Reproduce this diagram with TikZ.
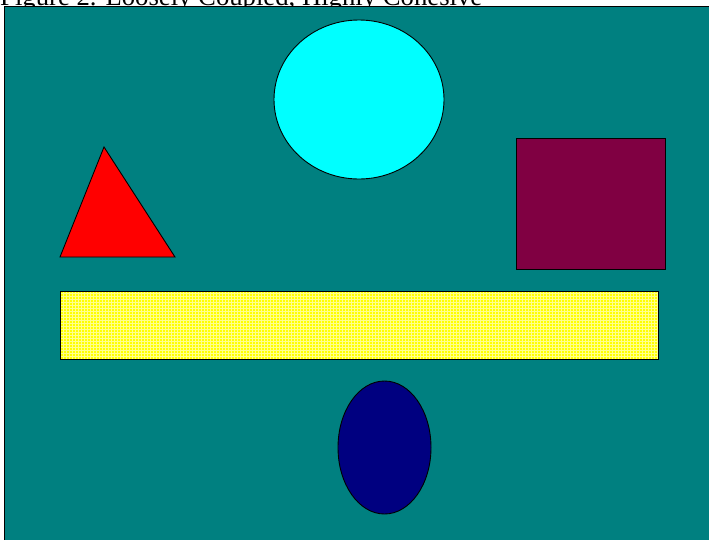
\documentclass[tikz,border=0pt]{standalone}
\usepackage{fontspec}
\setmainfont{Liberation Serif}
\usetikzlibrary{shapes.geometric,patterns,positioning}
\definecolor{figTeal}{RGB}{0,128,128}
\definecolor{figCyan}{RGB}{0,255,255}
\definecolor{figRed}{RGB}{255,0,0}
\definecolor{figPlum}{RGB}{128,0,66}
\definecolor{figYellow}{RGB}{255,255,0}
\definecolor{figNavy}{RGB}{0,0,128}

\begin{document}
\begin{tikzpicture}[x=1pt, y=-1pt,
  outline/.style={draw=black, line width=0.9pt},
  blob/.style={ellipse, outline, fill=#1, inner sep=0pt},
  slab/.style={rectangle, outline, inner sep=0pt}
]
  \useasboundingbox (0,0) rectangle (709,539);
  % caption, mostly cut off above the page
  \node[anchor=base west, inner sep=0pt,
        font=\fontsize{26.7}{30}\selectfont] (caption) at (0,5)
    {Figure 2. Loosely Coupled, Highly Cohesive};
  % backdrop
  \fill[figTeal] (4,6) rectangle (712,542);
  \draw[line width=1pt] (4,542) -- (4,6) -- (712,6);

  \node[blob=figCyan, minimum width=170pt, minimum height=159pt]
    (sun) at (359,99.5) {};
  \filldraw[outline, fill=figRed] (104,147) -- (175,257) -- (60,257) -- cycle;
  \node[slab, fill=figPlum, minimum width=149pt, minimum height=131pt]
    (block) at (590.5,203.5) {};
  \node[slab, preaction={fill=figYellow}, pattern=grid, pattern color=white!55!yellow,
        minimum width=598pt, minimum height=68pt]
    (bar) at (359,325) {};
  \node[blob=figNavy, minimum width=93pt, minimum height=133pt]
    (egg) at (384.5,447.5) {};
\end{tikzpicture}
\end{document}
